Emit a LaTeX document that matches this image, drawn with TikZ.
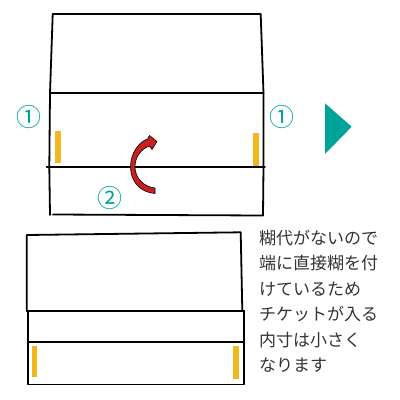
\documentclass[tikz,border=0pt]{standalone}
\usepackage{fontspec}
\newfontfamily\jpfont{Noto Sans CJK JP}
\definecolor{tealc}{HTML}{00A39A}
\definecolor{gluec}{HTML}{F2B71C}
\definecolor{arrowred}{HTML}{C8201E}
\definecolor{txtc}{HTML}{333333}
\begin{document}
\begin{tikzpicture}[x=1pt,y=-1pt,
  ln/.style={line width=1.8pt,black,line cap=round,line join=round},
  gluebar/.style={fill=gluec,draw=none},
  num/.style={text=tealc,font=\jpfont\fontsize{25}{25}\selectfont,inner sep=0pt},
  note/.style={text=txtc,font=\jpfont\fontsize{17}{17}\selectfont,inner sep=0pt,anchor=west}]
\useasboundingbox (0,0) rectangle (400,400);
% top figure
\coordinate (tl) at (52.7,14.3);
\coordinate (tr) at (260.7,14.3);
\coordinate (ml) at (50,93.3);
\coordinate (mr) at (263.5,93.3);
\coordinate (fl) at (46.7,166.7);
\coordinate (fr) at (265,166.7);
\coordinate (bl) at (50,215);
\coordinate (br) at (263,215.5);
\draw[ln] (tl) -- (tr);
\draw[ln] (ml) -- (mr);
\draw[ln] (fl) -- (fr);
\draw[ln] (53,214.5) -- (br);
\draw[ln] (tl) -- (ml) -- (49.3,166.7) -- (bl);
\draw[ln] (tr) -- (mr) -- (263.5,166.7) -- (br);
\fill[gluec] (55,131) rectangle (61,163.3);
\fill[gluec] (252.7,133.3) rectangle (258.7,165.7);
\node[num] (n1l) at (29,117.3) {①};
\node[num] (n1r) at (282.3,117.3) {①};
\node[num] (n2) at (110,197.7) {②};
% red fold arrow
\draw[fill=arrowred,draw=black,line width=0.6pt,line join=round]
  (155,193.5) .. controls (140,192.5) and (130.5,181) .. (130.5,167)
  .. controls (130.5,153) and (139,142) .. (147.5,139)
  -- (149.5,135.5) -- (157,141.5) -- (152,149.5) -- (149.5,146)
  .. controls (141,149) and (135,157) .. (135,167)
  .. controls (135,178) and (144,187) .. (155,188) -- cycle;
% teal triangle
\fill[tealc] (325,103.3) -- (351.7,126.7) -- (325,154) -- cycle;
% bottom figure
\coordinate (Btl) at (26.7,235);
\coordinate (Btr) at (240.7,232.3);
\coordinate (Bml) at (26.7,310.7);
\coordinate (Bmr) at (244.3,310.7);
\draw[ln] (Bml) -- (Btl) -- (Btr) -- (242.3,310.7);
\draw[ln] (Bml) -- (Bmr);
\draw[ln] (28.3,310.7) -- (28.3,384.5) -- (244,384.5) -- (244,310.7);
\draw[ln] (28.3,341.7) -- (244,341.7);
\fill[gluec] (31.7,345.7) rectangle (37.3,376.7);
\fill[gluec] (232.7,345.7) rectangle (238.7,378.7);
% note text
\node[note] (t1) at (259,238) {糊代がないので};
\node[note] (t2) at (259,263.4) {端に直接糊を付};
\node[note] (t3) at (259,288.8) {けているため};
\node[note] (t4) at (259,314.2) {チケットが入る};
\node[note] (t5) at (259,339.6) {内寸は小さく};
\node[note] (t6) at (259,365) {なります};
\end{tikzpicture}
\end{document}
